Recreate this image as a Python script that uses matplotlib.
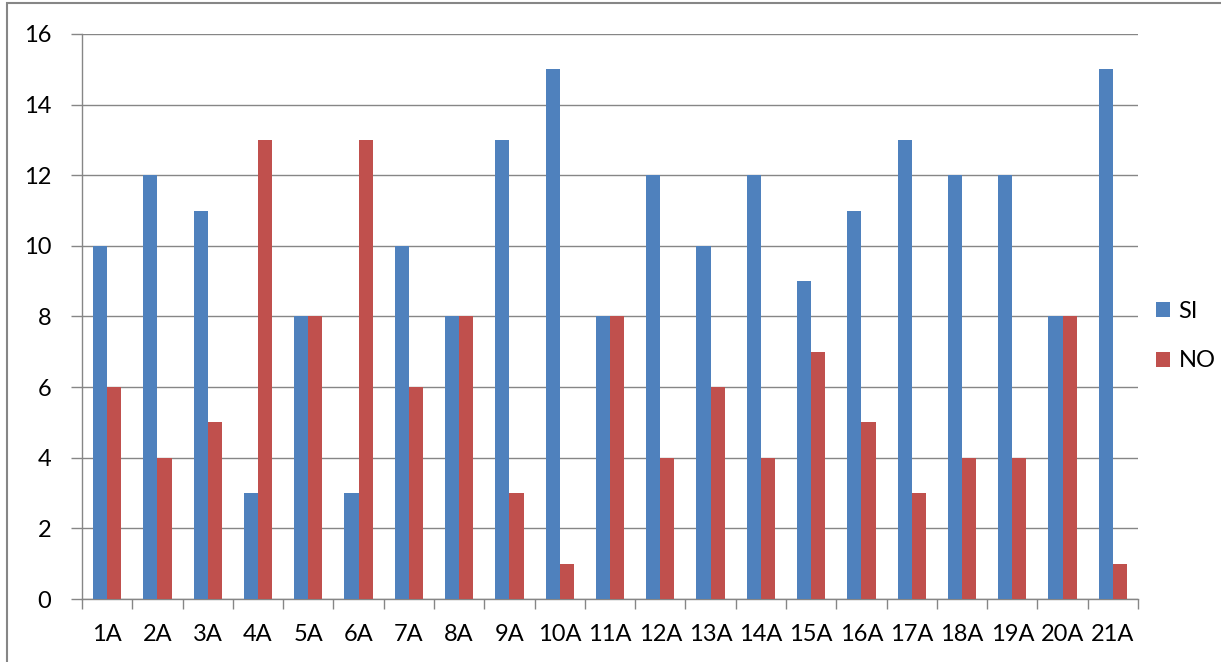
import matplotlib
matplotlib.use("Agg")
import matplotlib.pyplot as plt
import numpy as np
from matplotlib.patches import Rectangle

categories = ["1A","2A","3A","4A","5A","6A","7A","8A","9A","10A","11A","12A","13A","14A","15A","16A","17A","18A","19A","20A","21A"]
si_values = [10,12,11,3,8,3,10,8,13,15,8,12,10,12,9,11,13,12,12,8,15]
no_values = [6,4,5,13,8,13,6,8,3,1,8,4,6,4,7,5,3,4,4,8,1]
series_names = ["SI", "NO"]
y_ticks = [0,2,4,6,8,10,12,14,16]

plt.rcParams['font.family'] = ['Lato', 'DejaVu Sans']
W, H = 1221, 662
fig = plt.figure(figsize=(W/100, H/100), dpi=100)
ax = fig.add_axes([82/W, 1-599/H, (1138-82)/W, (599-34)/H])

x = np.arange(len(categories))
bw = 0.28
blue = "#4F81BD"
red = "#C0504D"
b1 = ax.bar(x - bw/2, si_values, bw, color=blue, label=series_names[0], zorder=3)
b2 = ax.bar(x + bw/2, no_values, bw, color=red, label=series_names[1], zorder=3)

ax.set_xlim(-0.5, len(categories)-0.5)
ax.set_ylim(0, 16)
ax.set_yticks(y_ticks)
ax.set_yticklabels([str(v) for v in y_ticks], fontsize=17)
ax.yaxis.grid(True, color="#868686", linewidth=1, zorder=0)
ax.set_axisbelow(True)

ax.set_xticks(x)
ax.set_xticklabels(categories, fontsize=17)
ax.tick_params(axis='x', length=0, pad=18)
ax.set_xticks(np.arange(-0.5, len(categories)), minor=True)
ax.tick_params(axis='x', which='minor', length=7, color="#868686", width=1)
ax.tick_params(axis='y', length=8, color="#868686", width=1, pad=14)

for s in ['top', 'right']:
    ax.spines[s].set_visible(False)
for s in ['left', 'bottom']:
    ax.spines[s].set_color("#868686")
    ax.spines[s].set_linewidth(1)

leg = fig.legend(handles=[b1, b2], labels=series_names, loc='upper left',
                 bbox_to_anchor=(1156/W, 1-301/H), frameon=False, fontsize=17,
                 borderpad=0, borderaxespad=0,
                 handlelength=0.6, handleheight=0.6, labelspacing=1.2, handletextpad=0.35)

fig.patches.append(Rectangle((7/W, -0.1), 1.2, 1 - 3/H + 0.1, transform=fig.transFigure,
                             fill=False, edgecolor="#868686", linewidth=1.5))

fig.savefig("out.png", dpi=100)
